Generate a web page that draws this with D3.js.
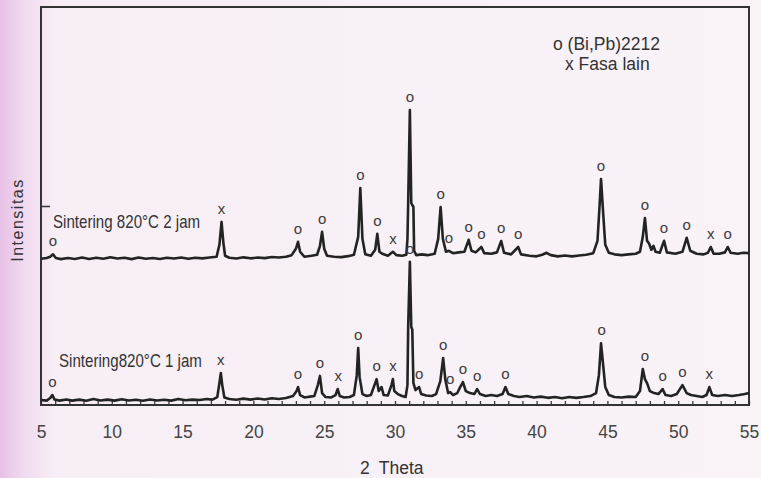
<!DOCTYPE html>
<html>
<head>
<meta charset="utf-8">
<script src="https://cdn.jsdelivr.net/npm/d3@7"></script>
<style>
  html, body { margin: 0; padding: 0; }
  body {
    width: 761px; height: 478px; overflow: hidden;
    background: linear-gradient(to right, #e7bfe6 0px, #f0d9ef 22px, #f7eef6 55px, #f9f3f8 100%);
  }
  svg { display: block; font-family: "Liberation Sans", Arial, sans-serif; }
</style>
</head>
<body>
<svg id="chart"></svg>
<script>
const width = 761,
  height = 478;

// upper trace (Sintering 820°C 2 jam), intensity before offset
const upperTrace = [
  [5.0, 20], [5.4, 24], [5.65, 30], [5.85, 42], [6.05, 24], [6.4, 18], [6.9, 24], [7.4, 19],
  [7.9, 26], [8.4, 19], [8.9, 25], [9.4, 20], [9.9, 27], [10.4, 21], [10.9, 25], [11.4, 18],
  [11.9, 26], [12.4, 20], [12.9, 24], [13.4, 19], [13.9, 25], [14.4, 21], [14.9, 26], [15.4, 20],
  [15.9, 25], [16.4, 22], [16.9, 26], [17.4, 30], [17.6, 90], [17.75, 205], [17.88, 100], [18.0, 35],
  [18.3, 25], [18.8, 21], [19.3, 27], [19.8, 22], [20.3, 26], [20.8, 23], [21.3, 29], [21.8, 26],
  [22.3, 30], [22.7, 38], [23.0, 70], [23.15, 105], [23.3, 55], [23.6, 30], [24.1, 35], [24.5, 40],
  [24.7, 85], [24.85, 155], [25.0, 70], [25.2, 35], [25.7, 30], [26.2, 28], [26.7, 33], [27.1, 40],
  [27.4, 130], [27.55, 375], [27.7, 120], [27.9, 42], [28.3, 35], [28.6, 65], [28.75, 145], [28.9, 55],
  [29.1, 45], [29.5, 35], [29.85, 55], [30.1, 38], [30.5, 35], [30.8, 40], [30.88, 120], [30.93, 300],
  [31.05, 767], [31.15, 300], [31.22, 290], [31.3, 280], [31.35, 60], [31.5, 38], [31.9, 42], [32.3, 38],
  [32.8, 45], [33.05, 120], [33.22, 280], [33.38, 120], [33.6, 55], [33.8, 60], [34.1, 48], [34.5, 52],
  [34.9, 55], [35.2, 115], [35.4, 60], [35.7, 52], [36.1, 79], [36.3, 48], [36.8, 45], [37.2, 52],
  [37.5, 109], [37.7, 50], [38.2, 42], [38.7, 79], [38.9, 42], [39.5, 35], [40.0, 32], [40.4, 40],
  [40.7, 50], [41.0, 38], [41.5, 32], [42.0, 36], [42.5, 32], [43.0, 36], [43.5, 40], [44.0, 48],
  [44.3, 110], [44.45, 290], [44.55, 421], [44.7, 250], [44.85, 90], [45.1, 50], [45.5, 42], [46.0, 38],
  [46.5, 42], [47.0, 45], [47.3, 55], [47.5, 130], [47.65, 225], [47.8, 110], [47.95, 95], [48.1, 65],
  [48.25, 85], [48.4, 55], [48.7, 50], [49.0, 110], [49.2, 52], [49.8, 45], [50.3, 55], [50.6, 125],
  [50.85, 60], [51.3, 45], [51.8, 42], [52.1, 50], [52.3, 79], [52.5, 45], [52.9, 45], [53.3, 52],
  [53.5, 79], [53.7, 50], [54.2, 45], [54.6, 50], [55.0, 48],
];
const upperOffset = 715;

// lower trace (Sintering 820°C 1 jam)
const lowerTrace = [
  [5.0, 25], [5.4, 22], [5.65, 35], [5.8, 50], [5.95, 28], [6.3, 22], [6.8, 28], [7.2, 22],
  [7.7, 27], [8.2, 21], [8.7, 30], [9.2, 23], [9.7, 27], [10.2, 22], [10.7, 29], [11.2, 23],
  [11.7, 26], [12.2, 21], [12.7, 28], [13.2, 23], [13.7, 26], [14.2, 22], [14.7, 30], [15.2, 24],
  [15.7, 27], [16.2, 25], [16.7, 30], [17.1, 27], [17.45, 40], [17.6, 110], [17.7, 161], [17.8, 100],
  [17.95, 38], [18.3, 30], [18.8, 26], [19.3, 32], [19.8, 27], [20.3, 33], [20.8, 28], [21.3, 34],
  [21.8, 30], [22.3, 35], [22.8, 45], [23.05, 70], [23.15, 90], [23.3, 50], [23.6, 38], [24.0, 42],
  [24.3, 45], [24.55, 100], [24.7, 146], [24.85, 60], [25.1, 40], [25.5, 38], [25.8, 50], [25.95, 80],
  [26.1, 45], [26.4, 38], [26.8, 40], [27.1, 50], [27.3, 150], [27.4, 286], [27.5, 140], [27.7, 55],
  [28.0, 45], [28.3, 50], [28.55, 100], [28.7, 130], [28.85, 70], [29.05, 90], [29.2, 50], [29.5, 48],
  [29.75, 100], [29.85, 130], [29.95, 70], [30.2, 55], [30.5, 45], [30.75, 40], [30.88, 100], [30.93, 392],
  [31.05, 719], [31.15, 392], [31.22, 380], [31.3, 110], [31.45, 75], [31.6, 85], [31.7, 90], [31.85, 55],
  [32.2, 48], [32.6, 45], [32.9, 55], [33.2, 120], [33.4, 236], [33.55, 130], [33.75, 60], [33.9, 65],
  [34.1, 50], [34.4, 60], [34.6, 90], [34.8, 115], [35.0, 70], [35.3, 60], [35.6, 55], [35.8, 80],
  [36.0, 55], [36.4, 45], [36.8, 50], [37.2, 45], [37.6, 55], [37.8, 90], [38.0, 55], [38.4, 45],
  [38.8, 40], [39.3, 45], [39.8, 38], [40.3, 42], [40.8, 36], [41.3, 40], [41.8, 34], [42.3, 40],
  [42.8, 36], [43.3, 40], [43.8, 45], [44.2, 60], [44.4, 150], [44.55, 310], [44.7, 200], [44.85, 90],
  [45.1, 50], [45.5, 40], [46.0, 38], [46.5, 42], [47.0, 40], [47.3, 70], [47.5, 181], [47.65, 130],
  [47.8, 110], [48.0, 70], [48.3, 60], [48.6, 55], [48.9, 80], [49.1, 50], [49.5, 45], [49.9, 55],
  [50.3, 100], [50.6, 60], [50.9, 50], [51.3, 45], [51.7, 40], [52.0, 50], [52.2, 90], [52.4, 50],
  [52.8, 45], [53.3, 50], [53.8, 45], [54.3, 50], [54.7, 55], [55.0, 60],
];

// phase markers: o = (Bi,Pb)2212, x = other phase
const upperMarks = [
  [5.85, "o"], [17.75, "x"], [23.15, "o"], [24.85, "o"], [27.55, "o"], [28.75, "o"], [29.85, "x"],
  [31.05, "o"], [33.22, "o"], [33.8, "o"], [35.2, "o"], [36.1, "o"], [37.5, "o"], [38.7, "o"],
  [44.55, "o"], [47.65, "o"], [49.0, "o"], [50.6, "o"], [52.3, "x"], [53.5, "o"],
];
const lowerMarks = [
  [5.8, "o"], [17.7, "x"], [23.15, "o"], [24.7, "o"], [26.0, "x"], [27.4, "o"], [28.7, "o"],
  [29.85, "x"], [31.05, "o"], [31.7, "o"], [33.4, "o"], [33.9, "o"], [34.8, "o"], [35.8, "o"],
  [37.8, "o"], [44.6, "o"], [47.65, "o"], [48.9, "o"], [50.3, "o"], [52.2, "x"],
];

const xTicks = d3.range(5, 56, 1);
const yTicks = [1000];

const margin = { top: 7, right: 12, bottom: 73, left: 41 };

const x = d3.scaleLinear().domain([5, 55]).range([margin.left, width - margin.right]);
const y = d3.scaleLinear().domain([0, 2000]).range([height - margin.bottom, margin.top]);

const svg = d3.select("#chart").attr("width", width).attr("height", height);

// axes
svg
  .append("g")
  .attr("transform", `translate(0,${height - margin.bottom})`)
  .call(
    d3
      .axisBottom(x)
      .tickValues(xTicks)
      .tickSize(-4)
      .tickPadding(21)
      .tickFormat((d) => (d % 5 === 0 ? d : ""))
  )
  .call((g) => g.select(".domain").remove())
  .call((g) => g.selectAll("line").attr("stroke", "#3a3a3a").attr("stroke-width", 1.3))
  .call((g) =>
    g.selectAll("text").attr("font-size", 17.5).attr("fill", "#444").attr("font-family", "Liberation Sans, Arial")
  );

svg
  .append("g")
  .attr("transform", `translate(${margin.left},0)`)
  .call(d3.axisLeft(y).tickValues(yTicks).tickSize(-9).tickFormat(""))
  .call((g) => g.select(".domain").remove())
  .call((g) => g.selectAll("line").attr("stroke", "#333").attr("stroke-width", 1.5));

// frame
svg
  .append("rect")
  .attr("x", margin.left)
  .attr("y", margin.top)
  .attr("width", width - margin.left - margin.right)
  .attr("height", height - margin.top - margin.bottom)
  .attr("fill", "none")
  .attr("stroke", "#333")
  .attr("stroke-width", 2);

const line = d3
  .line()
  .x((d) => x(d[0]))
  .y((d) => y(d[1]));

const traces = [
  { data: upperTrace, offset: upperOffset, marks: upperMarks },
  { data: lowerTrace, offset: 0, marks: lowerMarks },
];

traces.forEach((t) => {
  const pts = t.data.map((d) => [d[0], d[1] + t.offset]);
  svg
    .append("path")
    .datum(pts)
    .attr("fill", "none")
    .attr("stroke", "#232323")
    .attr("stroke-width", 2.6)
    .attr("stroke-linejoin", "round")
    .attr("d", line);

  // marker sits above the highest point near its angle
  svg
    .append("g")
    .selectAll("text")
    .data(t.marks)
    .join("text")
    .attr("x", (m) => x(m[0]))
    .attr("y", (m) => {
      const near = pts.filter((p) => Math.abs(p[0] - m[0]) <= 0.2);
      return y(d3.max(near, (p) => p[1])) - 8;
    })
    .attr("text-anchor", "middle")
    .attr("font-size", 15)
    .attr("fill", "#3d3a38")
    .text((m) => m[1]);
});

// sample labels (narrow lettering in the original)
svg
  .append("text")
  .attr("transform", "translate(53,228) scale(0.84,1)")
  .attr("font-size", 18)
  .attr("fill", "#333")
  .text("Sintering 820°C 2 jam");

svg
  .append("text")
  .attr("transform", "translate(59,367) scale(0.84,1)")
  .attr("font-size", 18)
  .attr("fill", "#333")
  .text("Sintering820°C 1 jam");

// legend
svg
  .append("text")
  .attr("x", 553)
  .attr("y", 50)
  .attr("font-size", 17.5)
  .attr("fill", "#333")
  .text("o (Bi,Pb)2212");

svg
  .append("text")
  .attr("x", 565)
  .attr("y", 70)
  .attr("font-size", 17.5)
  .attr("fill", "#333")
  .text("x Fasa lain");

// axis titles
svg
  .append("text")
  .attr("transform", "translate(23,220) rotate(-90)")
  .attr("text-anchor", "middle")
  .attr("font-size", 16)
  .attr("letter-spacing", 1.5)
  .attr("fill", "#333")
  .text("Intensitas");

const xTitle = svg
  .append("text")
  .attr("x", 360)
  .attr("y", 474)
  .attr("font-size", 17.5)
  .attr("fill", "#333");
xTitle.append("tspan").text("2");
xTitle.append("tspan").attr("dx", 9).text("Theta");
</script>
</body>
</html>
